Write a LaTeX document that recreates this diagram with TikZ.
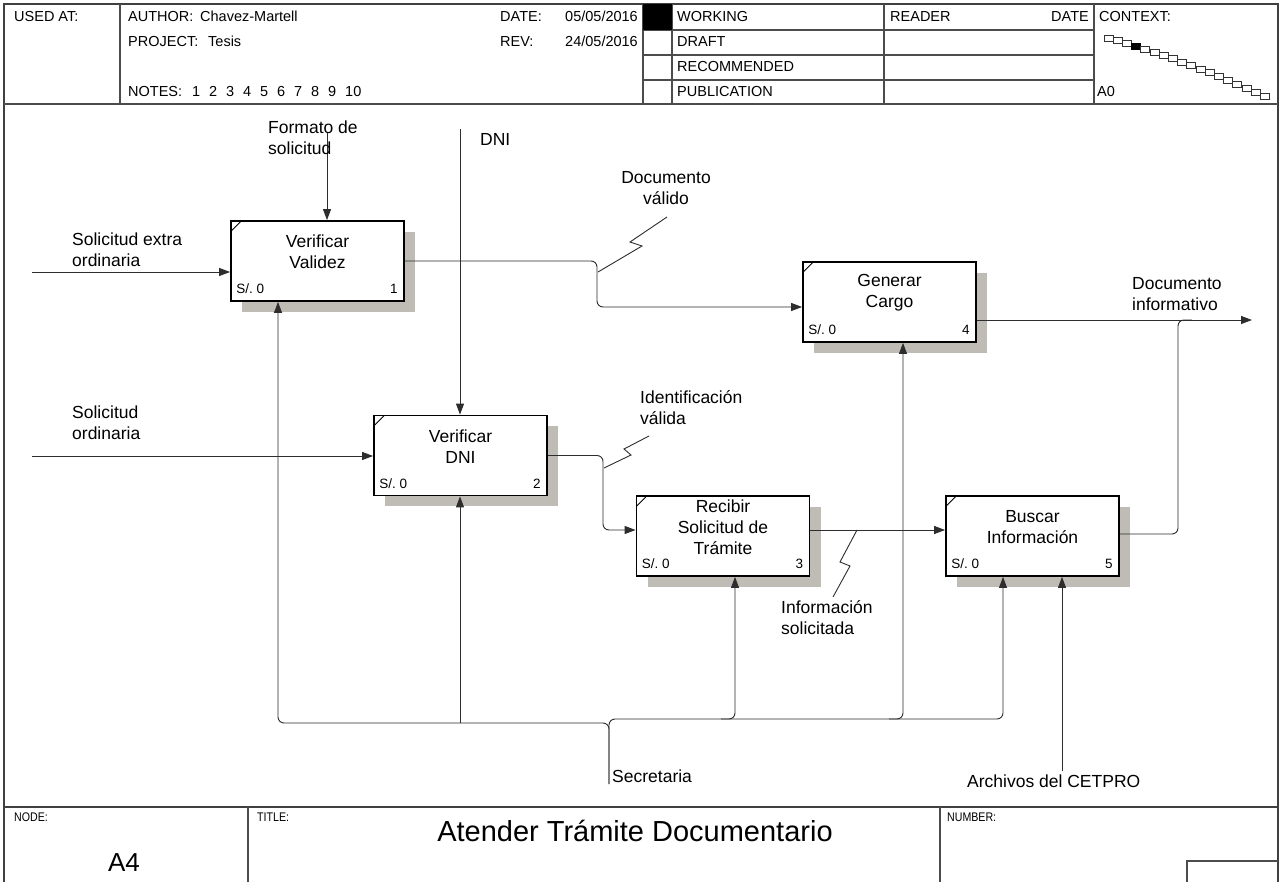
\documentclass[tikz,border=0pt]{standalone}
\usepackage{fontspec}
\setmainfont{Liberation Sans}
\usetikzlibrary{arrows.meta,calc,shadows}
\definecolor{shadowgray}{RGB}{190,188,181}
\definecolor{inkgray}{RGB}{45,45,45}

% one IDEF0 activity: name, x, y, title, number
\newcommand\actbox[5]{%
  \node[act] (#1) at (#2,#3) {};
  \node[acttext] (#1-t) at ($(#1.center)+(0,-9)$) {#4};
  \node[small, anchor=base west] (#1-c) at ($(#1.south west)+(6,-8)$) {S/.\ 0};
  \node[small, anchor=base east] (#1-n) at ($(#1.south east)+(-7,-8)$) {#5};
  \draw[black, line width=0.9pt] ($(#1.north west)+(1,11)$) -- ($(#1.north west)+(11,1)$);
}

\begin{document}
\begin{tikzpicture}[x=1pt, y=-1pt,
  frameline/.style={draw=black!75, line width=1.6pt},
  gridline/.style={draw=black!70, line width=1.2pt},
  hdr/.style={anchor=base west, inner sep=0, font=\fontsize{14.5}{16}\selectfont},
  ftr/.style={anchor=base west, inner sep=0, xscale=0.85, font=\fontsize{12.5}{14}\selectfont},
  act/.style={draw=black, line width=1.8pt, fill=white, minimum width=173pt,
    minimum height=80pt, inner sep=0,
    drop shadow={shadow xshift=11pt, shadow yshift=-11pt, fill=shadowgray, opacity=1}},
  acttext/.style={align=center, inner sep=0, font=\fontsize{17.5}{21}\selectfont},
  small/.style={inner sep=0, font=\fontsize{13.5}{16}\selectfont},
  lbl/.style={align=left, anchor=north west, inner sep=0, font=\fontsize{17.5}{21}\selectfont},
  flow/.style={draw=inkgray, line width=0.9pt, rounded corners=6pt},
  arr/.style={flow, -{Triangle[length=11pt,width=8pt]}},
  leader/.style={draw=inkgray, line width=0.9pt},
]
\useasboundingbox (0,0) rectangle (1286,882);
\clip (0,0) rectangle (1286,882);
\fill[white] (0,0) rectangle (1286,882);

% ---- sheet frame and header grid
\draw[frameline] (4,890) -- (4,4) -- (1278,4) -- (1278,890);
\draw[gridline] (4,104) -- (1278,104);
\foreach \vx in {120,643,672,884,1094} \draw[gridline] (\vx,4) -- (\vx,104);
\foreach \ry in {30,55,80} \draw[gridline] (643,\ry) -- (1094,\ry);
\fill[black] (643,4) rectangle (672,30);

% ---- header texts
\node[hdr] (usedat) at (14,22) {USED AT:};
\node[hdr] (author) at (128,22) {AUTHOR:};
\node[hdr] (authorv) at (200,22) {Chavez-Martell};
\node[hdr] (project) at (128,47) {PROJECT:};
\node[hdr] (projectv) at (208,47) {Tesis};
\node[hdr] (notes) at (128,97) {NOTES:};
\foreach \k [count=\j from 0] in {1,2,3,4,5,6,7,8,9,10}
  \node[hdr] (note\k) at (192+17*\j,97) {\k};
\node[hdr] (date) at (500,22) {DATE:};
\node[hdr, anchor=base east] (datev) at (638,22) {05/05/2016};
\node[hdr] (rev) at (500,47) {REV:};
\node[hdr, anchor=base east] (revv) at (638,47) {24/05/2016};
\node[hdr] (working) at (677,22) {WORKING};
\node[hdr] (draft) at (677,47) {DRAFT};
\node[hdr] (recom) at (677,72) {RECOMMENDED};
\node[hdr] (public) at (677,97) {PUBLICATION};
\node[hdr] (reader) at (890,22) {READER};
\node[hdr, anchor=base east] (rdate) at (1089,22) {DATE};
\node[hdr] (context) at (1099,22) {CONTEXT:};
\node[hdr] (ctxnode) at (1097,97) {A0};

% context strip of sibling diagrams, current one filled
\foreach \i in {0,...,17} {
  \pgfmathsetmacro\cx{1104+9.2*\i}
  \pgfmathsetmacro\cy{35+2.6*\i+0.05*\i*\i}
  \ifnum\i=3
    \filldraw[black, line width=0.7pt] (\cx,\cy) rectangle ++(9,6);
  \else
    \draw[black!80, line width=0.7pt, fill=white] (\cx,\cy) rectangle ++(9,6);
  \fi
}

% ---- footer
\draw[frameline] (4,807) -- (1278,807);
\draw[gridline] (248,807) -- (248,890);
\draw[gridline] (940,807) -- (940,890);
\draw[gridline] (1187,890) -- (1187,861) -- (1278,861);
\node[ftr] (nodelbl) at (14,821) {NODE:};
\node[ftr] (titlelbl) at (257,821) {TITLE:};
\node[ftr] (numlbl) at (947,821) {NUMBER:};
\node[anchor=base, inner sep=0, font=\fontsize{26}{28}\selectfont] (nodeid) at (124,871) {A4};
\node[anchor=base, inner sep=0, font=\fontsize{29}{32}\selectfont] (title) at (635,841) {Atender Trámite Documentario};

% ---- activities
\actbox{b1}{317.5}{261}{Verificar\\Validez}{1}
\actbox{b2}{460.5}{455.5}{Verificar\\DNI}{2}
\actbox{b3}{723}{536}{Recibir\\Solicitud de\\Trámite}{3}
\actbox{b4}{889.5}{302}{Generar\\Cargo}{4}
\actbox{b5}{1032.5}{536}{Buscar\\Información}{5}

% ---- controls
\coordinate (fmt) at (327,133);
\draw[arr] (fmt) -- (b1.north -| fmt);
\coordinate (dni) at (460,129);
\draw[arr] (dni) -- (b2.north -| dni);

% ---- inputs
\coordinate (in1) at (32,272);
\draw[arr] (in1) -- (b1.west |- in1);
\coordinate (in2) at (32,456);
\draw[arr] (in2) -- (b2.west |- in2);

% ---- internal flows
\coordinate (k1) at (597,307);
\draw[arr] (b1.east) -- (b1.east -| k1) -- (k1) -- (b4.west |- k1);
\coordinate (k2) at (603,530);
\draw[arr] (b2.east) -- (b2.east -| k2) -- (k2) -- (b3.west |- k2);
\draw[arr] (b3.east |- k2) -- (b5.west |- k2);

% ---- outputs
\coordinate (out) at (1252,320);
\draw[arr] (b4.east |- out) -- (out);
\coordinate (k5) at (1178,534);
\draw[flow] (b5.east |- k5) -- (k5) -- (k5 |- out) -- ($(k5 |- out)+(14,0)$);

% ---- mechanisms
\coordinate (sec) at (609,784);
\coordinate (mL) at (609,723);
\coordinate (mR) at (609,719);
\coordinate (m1) at (278,723);
\coordinate (m2) at (460,723);
\coordinate (m3) at (735,719);
\coordinate (m4) at (903,719);
\coordinate (m5) at (1003,719);
\draw[arr] (sec) -- (mL) -- (m1) -- (b1.south -| m1);
\draw[arr] (m2) -- (b2.south -| m2);
\draw[arr] (sec) -- (mR) -- (m5) -- (b5.south -| m5);
\draw[arr] ($(m3)+(-14,0)$) -- (m3) -- (b3.south -| m3);
\draw[arr] ($(m4)+(-14,0)$) -- (m4) -- (b4.south -| m4);
\coordinate (arch) at (1062,771);
\draw[arr] (arch) -- (b5.south -| arch);

% ---- arrow labels
\node[lbl] (l-fmt) at (268,121) {Formato de\\solicitud};
\node[lbl] (l-dni) at (480,133) {DNI};
\node[lbl] (l-in1) at (72,233) {Solicitud extra\\ordinaria};
\node[lbl] (l-in2) at (72,406) {Solicitud\\ordinaria};
\node[lbl, align=center, anchor=north] (l-dv) at (666,171) {Documento\\válido};
\node[lbl] (l-iv) at (640,390) {Identificación\\válida};
\node[lbl] (l-is) at (781,600) {Información\\solicitada};
\node[lbl] (l-di) at (1132,277) {Documento\\informativo};
\node[lbl, anchor=base west] (l-sec) at (612,782) {Secretaria};
\node[lbl, anchor=base west] (l-arc) at (967,787) {Archivos del CETPRO};

% ---- squiggle leaders tying labels to their arrows
\draw[leader] (598,272) -- (642,246) -- (630,242) -- (667,217);
\draw[leader] (604,468) -- (631,455) -- (624,449) -- (649,436);
\draw[leader] (857,530) -- (840,562) -- (850,566) -- (833,597);

\end{tikzpicture}
\end{document}
